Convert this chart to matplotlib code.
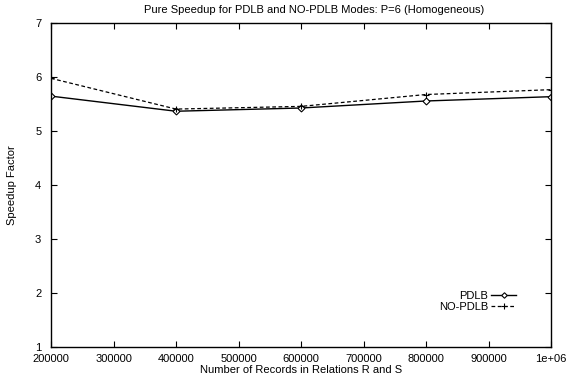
import matplotlib
matplotlib.use('Agg')
import matplotlib.pyplot as plt

plt.rcParams['font.family'] = ['Liberation Sans', 'DejaVu Sans']

# Dados
records = [200000, 400000, 600000, 800000, 1000000]
pdlb = [5.65, 5.37, 5.43, 5.56, 5.64]
no_pdlb = [5.98, 5.41, 5.46, 5.68, 5.77]

x_ticks = [200000, 300000, 400000, 500000, 600000, 700000, 800000, 900000, 1000000]
x_labels = ['200000', '300000', '400000', '500000', '600000', '700000', '800000', '900000', '1e+06']
y_ticks = [1, 2, 3, 4, 5, 6, 7]

fig = plt.figure(figsize=(5.67, 3.79), dpi=100)
ax = fig.add_axes([51 / 567, 32 / 379, 500 / 567, 323.7 / 379])

ax.plot(records, pdlb, color='black', lw=1.0, marker='D', markersize=3.5,
        markerfacecolor='white', markeredgecolor='black', markeredgewidth=0.8, label='PDLB')
ax.plot(records, no_pdlb, color='black', lw=0.9, ls=(0, (3, 2)), marker='+', markersize=5,
        markeredgewidth=0.8, label='NO-PDLB')

ax.set_xlim(200000, 1000000)
ax.set_ylim(1, 7)
ax.set_xticks(x_ticks)
ax.set_xticklabels(x_labels)
ax.set_yticks(y_ticks)

ax.tick_params(direction='in', length=4, width=0.8, top=True, right=True, labelsize=8)
ax.tick_params(axis='x', pad=5)
ax.tick_params(axis='y', pad=7)
for s in ax.spines.values():
    s.set_linewidth(1.0)

ax.set_xlabel('Number of Records in Relations R and S', fontsize=8, labelpad=0.5)
ax.set_ylabel('Speedup Factor', fontsize=8)
ax.yaxis.set_label_coords(-0.068, 0.5)

fig.text(314 / 567, 1 - 10 / 379, 'Pure Speedup for PDLB and NO-PDLB Modes: P=6 (Homogeneous)',
         ha='center', va='center', fontsize=8)

ax.legend(loc='lower right', bbox_to_anchor=(0.945, 0.085), frameon=False, markerfirst=False,
          fontsize=8, handlelength=2.2, handletextpad=0.3, labelspacing=0.05, borderpad=0.2,
          markerscale=0.8)

fig.savefig('out.png', dpi=100)
